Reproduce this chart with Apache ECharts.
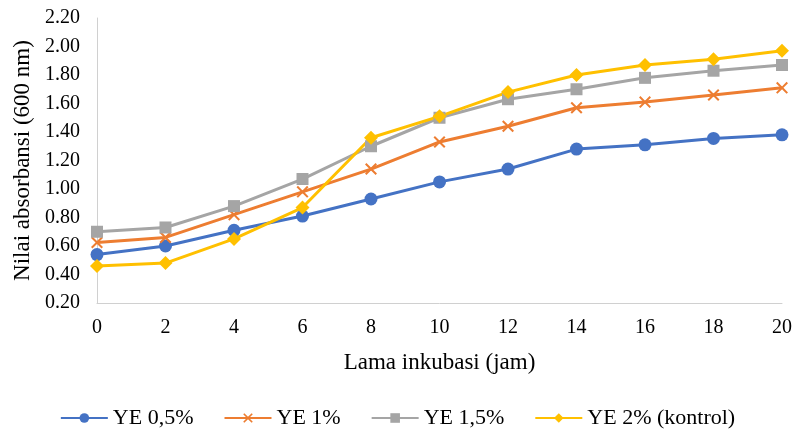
<!DOCTYPE html>
<html><head><meta charset="utf-8">
<script src="https://cdn.jsdelivr.net/npm/echarts@6/dist/echarts.min.js"></script>
<style>html,body{margin:0;padding:0;background:#fff}#c{width:795px;height:432px}</style>
</head><body><div id="c"></div>
<script>
const categories = ['0','2','4','6','8','10','12','14','16','18','20'];
const ye05 = [0.54,0.60,0.71,0.81,0.93,1.05,1.14,1.28,1.31,1.355,1.38];
const ye1  = [0.625,0.66,0.82,0.98,1.14,1.33,1.44,1.57,1.61,1.66,1.71];
const ye15 = [0.70,0.73,0.88,1.07,1.30,1.50,1.63,1.70,1.78,1.83,1.87];
const ye2  = [0.46,0.48,0.65,0.87,1.36,1.51,1.68,1.80,1.87,1.91,1.97];
const seriesNames = ['YE 0,5%','YE 1%','YE 1,5%','YE 2% (kontrol)'];
const F = '"Liberation Serif","Times New Roman",serif';
const xShape = 'path://M0,1.2 L1.2,0 L5,3.8 L8.8,0 L10,1.2 L6.2,5 L10,8.8 L8.8,10 L5,6.2 L1.2,10 L0,8.8 L3.8,5 Z';
const chart = echarts.init(document.getElementById('c'));
function mk(name, data, color, symbol, size){
  return {name, type:'line', data, symbol, symbolSize:size, showSymbol:true,
    lineStyle:{color, width:3}, itemStyle:{color}, emphasis:{disabled:true}, animation:false};
}
chart.setOption({
  animation:false,
  textStyle:{fontFamily:F},
  grid:{left:97, right:12, top:18, bottom:129, containLabel:false},
  legend:{top:402, left:'center', itemWidth:47, itemHeight:12, itemGap:30,
    textStyle:{fontFamily:F, fontSize:22, color:'#000'},
    data:seriesNames},
  xAxis:{type:'category', data:categories, boundaryGap:false,
    axisLine:{lineStyle:{color:'#d0d0d0', width:1}}, axisTick:{show:false},
    axisLabel:{fontFamily:F, fontSize:20, color:'#000', margin:15},
    name:'Lama inkubasi (jam)', nameLocation:'middle', nameGap:48,
    nameTextStyle:{fontFamily:F, fontSize:23, color:'#000'}},
  yAxis:{type:'value', min:0.2, max:2.2, interval:0.2,
    axisLine:{show:true, lineStyle:{color:'#d0d0d0', width:1}}, axisTick:{show:false},
    splitLine:{show:false},
    axisLabel:{fontFamily:F, fontSize:20, color:'#000', margin:17, formatter:v=>v.toFixed(2)},
    name:'Nilai absorbansi (600 nm)', nameLocation:'middle', nameGap:60,
    nameTextStyle:{fontFamily:F, fontSize:23, color:'#000'}},
  series:[
    mk(seriesNames[0], ye05, '#4472C4', 'circle', 13),
    mk(seriesNames[1], ye1, '#ED7D31', xShape, 12),
    mk(seriesNames[2], ye15, '#A5A5A5', 'rect', 12),
    mk(seriesNames[3], ye2, '#FFC000', 'diamond', 14)
  ]
});
</script></body></html>
